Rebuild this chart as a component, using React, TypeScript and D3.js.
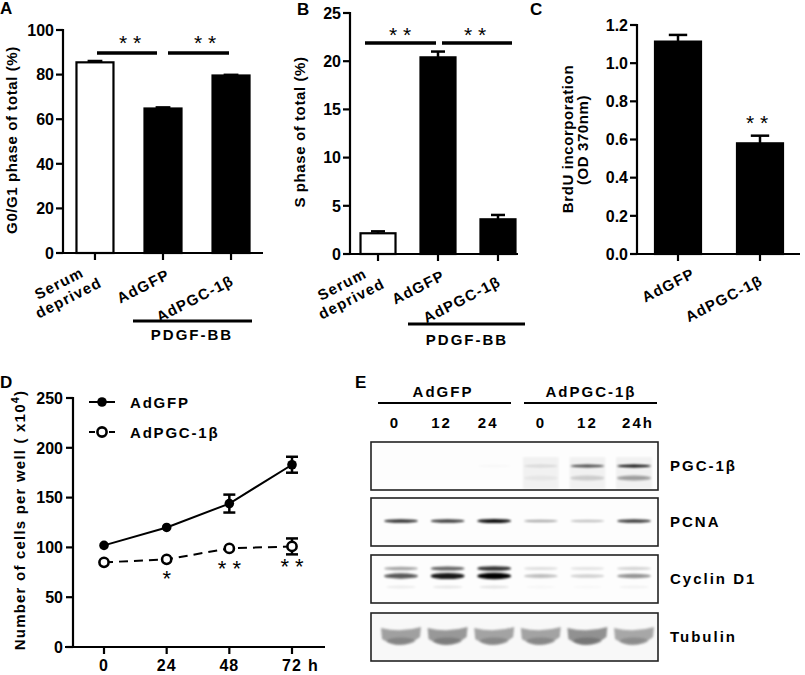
import React from "react";
import * as d3 from "d3";

const FONT = "'Liberation Sans', Arial, Helvetica, sans-serif";

// ---------- Panel A ----------
const catsABC = ["Serum deprived", "AdGFP", "AdPGC-1β"];
const g0g1Values = [85.5, 64.8, 79.6];
const g0g1Errors = [0.6, 0.5, 0.3];
const ticksA = [0, 20, 40, 60, 80, 100];

// ---------- Panel B ----------
const sPhaseValues = [2.15, 20.4, 3.6];
const sPhaseErrors = [0.2, 0.6, 0.45];
const ticksB = [0, 5, 10, 15, 20, 25];

// ---------- Panel C ----------
const catsC = ["AdGFP", "AdPGC-1β"];
const brduValues = [1.113, 0.58];
const brduErrors = [0.035, 0.04];
const ticksC = [0, 0.2, 0.4, 0.6, 0.8, 1.0, 1.2];

// ---------- Panel D ----------
const hours = [0, 24, 48, 72];
const hourLabels = ["0", "24", "48", "72"];
const adgfpCells = [102, 120, 144, 183];
const adgfpErr = [1.5, 1.5, 9, 8];
const adpgcCells = [85, 88, 99, 101];
const adpgcErr = [1.5, 1.5, 1.5, 8];
const sigD = ["", "*", "* *", "* *"];
const ticksD = [0, 50, 100, 150, 200, 250];

// ---------- Panel E ----------
const groupsE = ["AdGFP", "AdPGC-1β"];
const laneLabels = ["0", "12", "24", "0", "12", "24h"];
const proteins = ["PGC-1β", "PCNA", "Cyclin D1", "Tubulin"];
const pgcUpper = [0, 0, 0.02, 0.1, 0.7, 0.95];
const pgcLower = [0, 0, 0, 0.06, 0.22, 0.5];
const pcnaBand = [0.85, 0.8, 1.0, 0.35, 0.25, 0.8];
const cyclinUpper = [0.35, 0.6, 0.8, 0.12, 0.1, 0.16];
const cyclinLower = [0.65, 0.9, 1.0, 0.25, 0.18, 0.42];
const tubulinBand = [0.6, 0.65, 0.58, 0.58, 0.7, 0.55];

type LabelPos = { lines: string[]; dx: number; dy: number }[];

function BarPanel(props: {
  cats: string[];
  values: number[];
  errors: number[];
  fills: string[];
  ticks: number[];
  fmt: (v: number) => string;
  yDomain: [number, number];
  yRange: [number, number];
  xRange: [number, number];
  pad: number;
  axisEnd: number;
  barW: number;
  labelPos: LabelPos;
}) {
  const { cats, values, errors, fills, ticks, fmt, yDomain, yRange, xRange, pad, axisEnd, barW, labelPos } = props;
  const y = d3.scaleLinear().domain(yDomain).range(yRange);
  const x = d3.scalePoint<string>().domain(cats).range(xRange).padding(pad);
  const ax = xRange[0];
  const y0 = y(0);
  return (
    <g>
      {cats.map((c, i) => {
        const cx = x(c)!;
        const top = y(values[i]);
        const et = y(values[i] + errors[i]);
        return (
          <g key={c}>
            <line x1={cx} x2={cx} y1={top} y2={et} stroke="#000" strokeWidth={2.5} />
            <line x1={cx - barW * 0.2} x2={cx + barW * 0.2} y1={et} y2={et} stroke="#000" strokeWidth={2.5} />
            <rect x={cx - barW / 2} y={top} width={barW} height={y0 - top} fill={fills[i]} stroke="#000" strokeWidth={2.2} />
          </g>
        );
      })}
      <line x1={ax} x2={ax} y1={y0 + 1} y2={y(yDomain[1]) - 1} stroke="#000" strokeWidth={2.2} />
      <line x1={ax - 1} x2={axisEnd} y1={y0} y2={y0} stroke="#000" strokeWidth={2.2} />
      {ticks.map((t) => (
        <g key={t}>
          <line x1={ax - 7} x2={ax} y1={y(t)} y2={y(t)} stroke="#000" strokeWidth={2.2} />
          <text x={ax - 9} y={y(t)} dy="0.36em" textAnchor="end" fontFamily={FONT} fontWeight="bold" fontSize={16}>
            {fmt(t)}
          </text>
        </g>
      ))}
      {cats.map((c, i) => {
        const cx = x(c)!;
        return (
          <g key={"l" + c}>
            <line x1={cx} x2={cx} y1={y0} y2={y0 + 7} stroke="#000" strokeWidth={2.2} />
            {labelPos[i].lines.map((ln, k) => (
              <text
                key={k}
                transform={`translate(${cx + labelPos[i].dx + k * 18},${y0 + labelPos[i].dy + k * 10}) rotate(-27)`}
                textAnchor="end"
                fontFamily={FONT}
                fontWeight="bold"
                fontSize={15}
                letterSpacing={1.2}
              >
                {ln}
              </text>
            ))}
          </g>
        );
      })}
    </g>
  );
}

function Stars({ x, y, t }: { x: number; y: number; t: string }) {
  return (
    <text x={x} y={y} textAnchor="middle" fontFamily={FONT} fontSize={21}>
      {t}
    </text>
  );
}

function PanelD() {
  const x = d3.scaleLinear().domain([0, 72]).range([104, 292]);
  const y = d3.scaleLinear().domain([0, 250]).range([647, 398]);
  const line = d3
    .line<number>()
    .x((_, i) => x(hours[i]))
    .y((d) => y(d));
  const ax = 73;
  return (
    <g>
      <path d={line(adgfpCells)!} fill="none" stroke="#000" strokeWidth={2} />
      <path d={line(adpgcCells)!} fill="none" stroke="#000" strokeWidth={2} strokeDasharray="9,6" />
      {hours.map((h, i) => (
        <g key={h}>
          {[
            [adgfpCells[i], adgfpErr[i]],
            [adpgcCells[i], adpgcErr[i]],
          ].map(([v, e], k) =>
            e > 3 ? (
              <g key={k}>
                <line x1={x(h)} x2={x(h)} y1={y(v - e)} y2={y(v + e)} stroke="#000" strokeWidth={2.5} />
                <line x1={x(h) - 6} x2={x(h) + 6} y1={y(v - e)} y2={y(v - e)} stroke="#000" strokeWidth={2.5} />
                <line x1={x(h) - 6} x2={x(h) + 6} y1={y(v + e)} y2={y(v + e)} stroke="#000" strokeWidth={2.5} />
              </g>
            ) : null
          )}
          <circle cx={x(h)} cy={y(adgfpCells[i])} r={4.8} fill="#000" />
          <circle cx={x(h)} cy={y(adpgcCells[i])} r={4.6} fill="#fff" stroke="#000" strokeWidth={2.6} />
          {sigD[i] && (
            <text x={x(h)} y={y(adpgcCells[i]) + (i === 1 ? 27 : 28)} textAnchor="middle" fontFamily={FONT} fontSize={22} fill="#000">
              {sigD[i]}
            </text>
          )}
        </g>
      ))}
      <line x1={ax} x2={ax} y1={y(0)} y2={y(250) - 1} stroke="#000" strokeWidth={2.2} />
      <line x1={65} x2={325} y1={y(0)} y2={y(0)} stroke="#000" strokeWidth={2.2} />
      {ticksD.map((t) => (
        <g key={t}>
          <line x1={ax - 7} x2={ax} y1={y(t)} y2={y(t)} stroke="#000" strokeWidth={2.2} />
          <text x={ax - 10} y={y(t)} dy="0.36em" textAnchor="end" fontFamily={FONT} fontWeight="bold" fontSize={16}>
            {t}
          </text>
        </g>
      ))}
      {hours.map((h, i) => (
        <g key={"t" + h}>
          <line x1={x(h)} x2={x(h)} y1={y(0)} y2={y(0) + 7} stroke="#000" strokeWidth={2.2} />
          <text x={x(h)} y={671} textAnchor="middle" fontFamily={FONT} fontWeight="bold" fontSize={16} letterSpacing={1}>
            {hourLabels[i]}
          </text>
        </g>
      ))}
      <text x={313} y={671} textAnchor="middle" fontFamily={FONT} fontWeight="bold" fontSize={16}>
        h
      </text>
      {/* legend */}
      <line x1={89} x2={115} y1={402} y2={402} stroke="#000" strokeWidth={2} />
      <circle cx={102} cy={402} r={4.8} fill="#000" />
      <text x={130} y={408} fontFamily={FONT} fontWeight="bold" fontSize={15} letterSpacing={1.8}>
        AdGFP
      </text>
      <line x1={89} x2={95} y1={432} y2={432} stroke="#000" strokeWidth={2} />
      <line x1={109} x2={115} y1={432} y2={432} stroke="#000" strokeWidth={2} />
      <circle cx={102} cy={432} r={4.6} fill="#fff" stroke="#000" strokeWidth={2.6} />
      <text x={130} y={438} fontFamily={FONT} fontWeight="bold" fontSize={15} letterSpacing={1.8}>
        AdPGC-1β
      </text>
      <text transform="translate(25,520) rotate(-90)" textAnchor="middle" fontFamily={FONT} fontWeight="bold" fontSize={15} letterSpacing={1.2}>
        Number of cells per well ( x10
        <tspan dy={-6} fontSize={11}>
          4
        </tspan>
        <tspan dy={6}>)</tspan>
      </text>
    </g>
  );
}

function Band({ cx, cy, w, h, v }: { cx: number; cy: number; w: number; h: number; v: number }) {
  if (v <= 0) return null;
  return <ellipse cx={cx} cy={cy} rx={w / 2} ry={h / 2} fill="#000" opacity={v} filter="url(#blur)" />;
}

function PanelE() {
  const lane = d3.scalePoint<number>().domain(d3.range(6)).range([401, 634]);
  const boxes = [442, 498, 555, 613];
  const boxH = 48;
  const bx0 = 371;
  const bx1 = 658;
  return (
    <g>
      <text x={443} y={397} textAnchor="middle" fontFamily={FONT} fontWeight="bold" fontSize={15} letterSpacing={2}>
        {groupsE[0]}
      </text>
      <text x={591} y={397} textAnchor="middle" fontFamily={FONT} fontWeight="bold" fontSize={15} letterSpacing={2}>
        {groupsE[1]}
      </text>
      <line x1={378} x2={511} y1={403} y2={403} stroke="#000" strokeWidth={2.2} />
      <line x1={524} x2={657} y1={403} y2={403} stroke="#000" strokeWidth={2.2} />
      {laneLabels.map((l, i) => (
        <text key={i} x={lane(i)! + (i < 3 ? -6 : i === 5 ? 4 : 0)} y={428} textAnchor="middle" fontFamily={FONT} fontWeight="bold" fontSize={15} letterSpacing={2}>
          {l}
        </text>
      ))}
      {boxes.map((by, k) => (
        <rect key={k} x={bx0} y={by} width={bx1 - bx0} height={boxH} fill={k === 3 ? "#f8f8f8" : "#fdfdfd"} />
      ))}
      {/* PGC-1b */}
      {d3.range(6).map((i) =>
        i >= 3 ? (
          <rect key={"pb" + i} x={lane(i)! - 18} y={457} width={36} height={32} fill="#000" opacity={0.045} filter="url(#blur)" />
        ) : null
      )}
      {d3.range(6).map((i) => (
        <g key={"pgc" + i}>
          <Band cx={lane(i)!} cy={466} w={34} h={3} v={pgcUpper[i]} />
          <Band cx={lane(i)!} cy={478} w={34} h={5} v={pgcLower[i] * 0.7} />
        </g>
      ))}
      {/* PCNA */}
      {d3.range(6).map((i) => (
        <Band key={"pc" + i} cx={lane(i)!} cy={521} w={34} h={2 + pcnaBand[i] * 2} v={pcnaBand[i] * 0.95} />
      ))}
      {/* Cyclin D1 */}
      {d3.range(6).map((i) => (
        <g key={"cy" + i}>
          <Band cx={lane(i)!} cy={568.5} w={34} h={3 + cyclinUpper[i] * 2} v={cyclinUpper[i]} />
          <Band cx={lane(i)!} cy={576} w={34} h={3 + cyclinLower[i] * 3.5} v={cyclinLower[i]} />
          <Band cx={lane(i)!} cy={587} w={30} h={3} v={cyclinLower[i] * 0.1} />
        </g>
      ))}
      {/* Tubulin */}
      {d3.range(6).map((i) => {
        const c = lane(i)!;
        const w = 20;
        const p = `M${c - w},628 Q${c},633 ${c + w},627 L${c + w - 1},637 Q${c},652 ${c - w + 1},639 Z`;
        return (
          <g key={"tb" + i}>
            <path d={p} fill="#666" opacity={tubulinBand[i]} filter="url(#blur)" />
            <ellipse cx={c} cy={641} rx={14} ry={3.5} fill="#333" opacity={tubulinBand[i] * 0.4} filter="url(#blur)" />
          </g>
        );
      })}
      {boxes.map((by, k) => (
        <rect key={"o" + k} x={bx0} y={by} width={bx1 - bx0} height={boxH} fill="none" stroke="#222" strokeWidth={1.6} />
      ))}
      {proteins.map((p, k) => (
        <text key={p} x={670} y={boxes[k] + boxH / 2} dy="0.36em" fontFamily={FONT} fontWeight="bold" fontSize={15} letterSpacing={2}>
          {p}
        </text>
      ))}
    </g>
  );
}

export default function App() {
  const labelAB: LabelPos = [
    { lines: ["Serum", "deprived"], dx: -10, dy: 23 },
    { lines: ["AdGFP"], dx: 8, dy: 25 },
    { lines: ["AdPGC-1β"], dx: 4, dy: 31 },
  ];
  const labelC: LabelPos = [
    { lines: ["AdGFP"], dx: 18, dy: 23 },
    { lines: ["AdPGC-1β"], dx: 4, dy: 30 },
  ];
  return (
    <svg width={805} height={675} style={{ position: "absolute", left: 0, top: 0, background: "#fff" }}>
      <defs>
        <filter id="blur" x="-30%" y="-100%" width="160%" height="300%">
          <feGaussianBlur stdDeviation="1.2" />
        </filter>
      </defs>
      <rect width={805} height={675} fill="#fff" />
      {/* Panel A */}
      <text x={0} y={14} fontFamily={FONT} fontWeight="bold" fontSize={17}>A</text>
      <BarPanel
        cats={catsABC}
        values={g0g1Values}
        errors={g0g1Errors}
        fills={["#fff", "#000", "#000"]}
        ticks={ticksA}
        fmt={(v) => String(v)}
        yDomain={[0, 100]}
        yRange={[253, 30]}
        xRange={[63, 263]}
        pad={0.47}
        axisEnd={263}
        barW={37}
        labelPos={labelAB}
      />
      <line x1={97} x2={157} y1={53} y2={53} stroke="#000" strokeWidth={3.5} />
      <line x1={168} x2={229} y1={53} y2={53} stroke="#000" strokeWidth={3.5} />
      <Stars x={130} y={50} t="* *" />
      <Stars x={205} y={50} t="* *" />
      <line x1={133} x2={252} y1={321} y2={321} stroke="#000" strokeWidth={3} />
      <text x={192} y={340} textAnchor="middle" fontFamily={FONT} fontWeight="bold" fontSize={15} letterSpacing={2}>PDGF-BB</text>
      <text transform="translate(17,140) rotate(-90)" textAnchor="middle" fontFamily={FONT} fontWeight="bold" fontSize={15} letterSpacing={0.6}>
        G0/G1 phase of total (%)
      </text>

      {/* Panel B */}
      <text x={297} y={15} fontFamily={FONT} fontWeight="bold" fontSize={17}>B</text>
      <BarPanel
        cats={catsABC}
        values={sPhaseValues}
        errors={sPhaseErrors}
        fills={["#fff", "#000", "#000"]}
        ticks={ticksB}
        fmt={(v) => String(v)}
        yDomain={[0, 25]}
        yRange={[254, 13]}
        xRange={[350, 526]}
        pad={0.467}
        axisEnd={518}
        barW={35}
        labelPos={labelAB}
      />
      <line x1={365} x2={436} y1={43} y2={43} stroke="#000" strokeWidth={3.5} />
      <line x1={442} x2={512} y1={43} y2={43} stroke="#000" strokeWidth={3.5} />
      <Stars x={400} y={42} t="* *" />
      <Stars x={475} y={42} t="* *" />
      <line x1={408} x2={525} y1={324} y2={324} stroke="#000" strokeWidth={3} />
      <text x={467} y={345} textAnchor="middle" fontFamily={FONT} fontWeight="bold" fontSize={15} letterSpacing={2}>PDGF-BB</text>
      <text transform="translate(305,132) rotate(-90)" textAnchor="middle" fontFamily={FONT} fontWeight="bold" fontSize={15} letterSpacing={0.6}>
        S phase of total (%)
      </text>

      {/* Panel C */}
      <text x={530} y={15} fontFamily={FONT} fontWeight="bold" fontSize={17}>C</text>
      <BarPanel
        cats={catsC}
        values={brduValues}
        errors={brduErrors}
        fills={["#000", "#000"]}
        ticks={ticksC}
        fmt={(v) => v.toFixed(1)}
        yDomain={[0, 1.2]}
        yRange={[254, 25]}
        xRange={[637, 801]}
        pad={0.5}
        axisEnd={800}
        barW={46}
        labelPos={labelC}
      />
      <Stars x={757} y={130} t="* *" />
      <text transform="translate(573,139) rotate(-90)" textAnchor="middle" fontFamily={FONT} fontWeight="bold" fontSize={15} letterSpacing={0.6}>
        BrdU incorporation
      </text>
      <text transform="translate(588,140) rotate(-90)" textAnchor="middle" fontFamily={FONT} fontWeight="bold" fontSize={15} letterSpacing={0.6}>
        (OD 370nm)
      </text>

      {/* Panel D */}
      <text x={0} y={388} fontFamily={FONT} fontWeight="bold" fontSize={17}>D</text>
      <PanelD />

      {/* Panel E */}
      <text x={355} y={388} fontFamily={FONT} fontWeight="bold" fontSize={17}>E</text>
      <PanelE />
    </svg>
  );
}
